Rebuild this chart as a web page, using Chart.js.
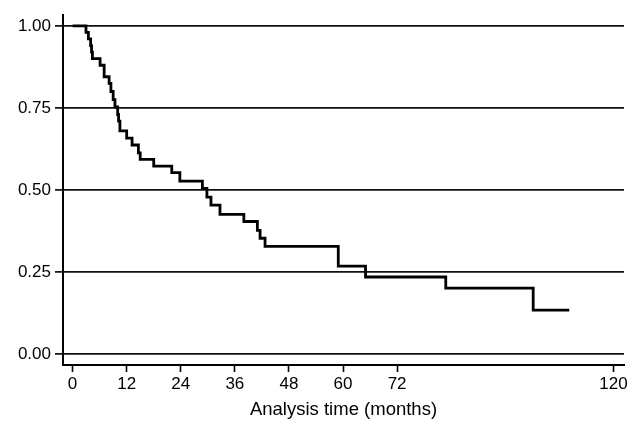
<!DOCTYPE html>
<html>
<head>
<meta charset="utf-8">
<script src="https://cdn.jsdelivr.net/npm/chart.js@4.4.1/dist/chart.umd.min.js"></script>
<style>
    body { margin: 0; background: #fff; }
    #wrap { width: 640px; height: 436px; }
</style>
</head>
<body>
<div id="wrap"><canvas id="kmChart" width="640" height="436"></canvas></div>
<script>
// Kaplan-Meier estimate: times (months) where the curve drops, and the value after the drop
const eventTimes = [0, 2.97, 3.5, 4.0, 4.2, 4.4, 6.1, 7.0, 8.1, 8.5, 9.0, 9.4, 10.0, 10.2, 10.5,
    12.0, 13.2, 14.6, 15.0, 18.0, 22.0, 23.8, 28.8, 29.8, 30.7, 32.7, 38.0, 41.0, 41.6, 42.7,
    58.95, 65.0, 82.8, 102.2, 110.2];
const survival = [1.00, 0.98, 0.96, 0.94, 0.92, 0.90, 0.88, 0.845, 0.825, 0.80, 0.775, 0.753, 0.73, 0.71, 0.68,
    0.658, 0.637, 0.613, 0.593, 0.573, 0.553, 0.527, 0.505, 0.478, 0.454, 0.426, 0.404, 0.377, 0.353, 0.328,
    0.268, 0.235, 0.201, 0.134, 0.134];

const xTicks = [0, 12, 24, 36, 48, 60, 72, 120];
const yTicks = [0, 0.25, 0.5, 0.75, 1];

const FONT = 'Liberation Sans, Arial, Helvetica, sans-serif';

document.addEventListener('DOMContentLoaded', () => {
    const ctx = document.getElementById('kmChart').getContext('2d');

    const points = eventTimes.map((t, i) => ({ x: t, y: survival[i] }));

    new Chart(ctx, {
        type: 'line',
        data: {
            datasets: [{
                data: points,
                stepped: 'before',
                borderColor: '#000',
                borderWidth: 2.8,
                pointRadius: 0,
                fill: false,
                tension: 0
            }]
        },
        options: {
            responsive: false,
            animation: false,
            layout: { padding: { left: 0, right: 16, top: 15, bottom: 0 } },
            plugins: {
                legend: { display: false },
                tooltip: { enabled: false }
            },
            scales: {
                x: {
                    type: 'linear',
                    min: -2.13,
                    max: 122.35,
                    afterBuildTicks: (scale) => { scale.ticks = xTicks.map(v => ({ value: v })); },
                    afterFit: (scale) => { scale.height = 71; },
                    grid: {
                        drawOnChartArea: false,
                        drawTicks: true,
                        tickLength: 7,
                        tickWidth: 1.6,
                        tickColor: '#000'
                    },
                    border: { display: true, color: '#000', width: 2 },
                    ticks: {
                        color: '#000',
                        padding: 2,
                        maxRotation: 0,
                        font: { family: FONT, size: 17 },
                        callback: (v) => String(v)
                    },
                    title: {
                        display: true,
                        text: 'Analysis time (months)',
                        color: '#000',
                        font: { family: FONT, size: 18.5 },
                        padding: { top: 4, bottom: 15 }
                    }
                },
                y: {
                    type: 'linear',
                    min: -0.033,
                    max: 1.033,
                    afterBuildTicks: (scale) => { scale.ticks = yTicks.map(v => ({ value: v })); },
                    afterFit: (scale) => { scale.width = 63; },
                    grid: {
                        color: '#111',
                        lineWidth: 1.8,
                        drawTicks: true,
                        tickLength: 8,
                        tickWidth: 1.6,
                        tickColor: '#000'
                    },
                    border: { display: true, color: '#000', width: 2 },
                    ticks: {
                        color: '#000',
                        padding: 4,
                        font: { family: FONT, size: 17 },
                        callback: (v) => v.toFixed(2)
                    }
                }
            }
        }
    });
});
</script>
</body>
</html>
